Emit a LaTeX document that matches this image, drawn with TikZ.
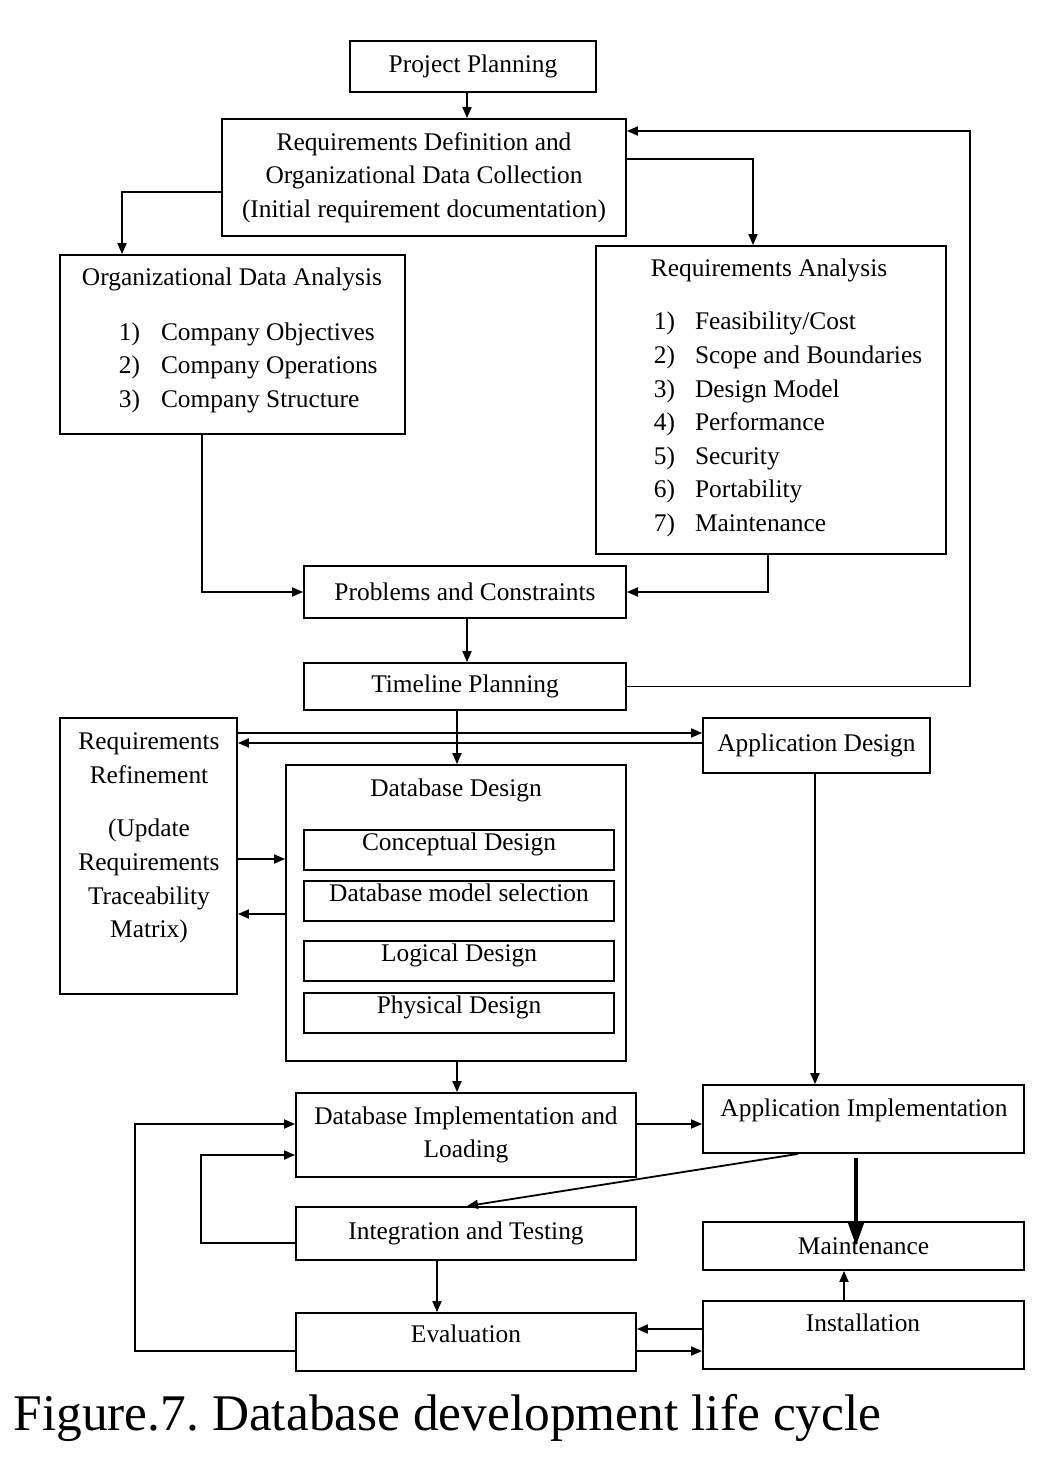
\documentclass[tikz,border=0pt]{standalone}
\usepackage{fontspec}
\setmainfont{Liberation Serif}
\usetikzlibrary{arrows.meta}

\begin{document}
\begin{tikzpicture}[x=0.5pt, y=-0.5pt, line width=0.9pt,
    font=\fontsize{12.7}{16.8}\selectfont,
    >={Triangle[length=5.5pt,width=4.5pt]},
    box/.style={draw, inner sep=0pt, align=center},
    raised/.style={text height=9pt, text depth=8.5pt}]
    \useasboundingbox (0,0) rectangle (1052,1460);

    \node[box, minimum width=123pt, minimum height=25.5pt] (pp) at (473,66.5) {Project Planning};
    \node[box, minimum width=202pt, minimum height=58.5pt] (rd) at (424,177.5) {Requirements Definition and\\Organizational Data Collection\\(Initial requirement documentation)};

    \node[box, minimum width=172.5pt, minimum height=89.5pt] (oda) at (232.5,344.5) {};
    \node (odatitle) at (232,279) {Organizational Data Analysis};
    \node[anchor=west, inner sep=0pt] (odalist) at (118,367) {\begin{tabular}{@{}l@{\hspace{10.5pt}}l@{}}
        1) & Company Objectives\\ 2) & Company Operations\\ 3) & Company Structure\end{tabular}};

    \node[box, minimum width=175pt, minimum height=154pt] (ra) at (771,400) {};
    \node (ratitle) at (769,270) {Requirements Analysis};
    \node[anchor=west, inner sep=0pt] (ralist) at (653,424) {\begin{tabular}{@{}l@{\hspace{10pt}}l@{}}
        1) & Feasibility/Cost\\ 2) & Scope and Boundaries\\ 3) & Design Model\\ 4) & Performance\\
        5) & Security\\ 6) & Portability\\ 7) & Maintenance\end{tabular}};

    \node[box, minimum width=161pt, minimum height=26pt] (pc) at (465,592) {Problems and Constraints};
    \node[box, minimum width=161pt, minimum height=23.5pt] (tp) at (465,686.5) {Timeline Planning};

    \node[box, minimum width=88.5pt, minimum height=138pt] (rr) at (148.5,856) {};
    \node[align=center] (rrtxt) at (149,838) {Requirements\\Refinement\\[10pt](Update\\Requirements\\Traceability\\Matrix)};
    \node[box, minimum width=113.5pt, minimum height=27.5pt] (ad) at (816.5,745.5) {Application Design};

    \node[box, minimum width=170pt, minimum height=148pt] (dd) at (456,913) {};
    \node (ddtitle) at (456,790) {Database Design};
    \node[box, raised, minimum width=155pt, minimum height=20pt] (cd) at (459,850) {Conceptual Design};
    \node[box, raised, minimum width=155pt, minimum height=20pt] (ms) at (459,901) {Database model selection};
    \node[box, raised, minimum width=155pt, minimum height=20pt] (ld) at (459,961) {Logical Design};
    \node[box, raised, minimum width=155pt, minimum height=20pt] (phd) at (459,1013) {Physical Design};

    \node[box, minimum width=170pt, minimum height=42pt] (dil) at (466,1135) {Database Implementation and\\Loading};
    \node[box, minimum width=160.5pt, minimum height=34pt] (ai) at (863.5,1119) {};
    \node (aitxt) at (864,1110) {Application Implementation};
    \node[box, minimum width=170pt, minimum height=26.5pt] (it) at (466,1233.5) {Integration and Testing};
    \node[box, minimum width=160.5pt, minimum height=24pt] (mt) at (863.5,1246) {Maintenance};
    \node[box, minimum width=160.5pt, minimum height=34pt] (ins) at (863.5,1335) {};
    \node (instxt) at (863,1323) {Installation};
    \node[box, raised, minimum width=170pt, minimum height=29pt] (ev) at (466,1342) {Evaluation};

    \draw[->] (467,0 |- pp.south) -- (467,0 |- rd.north);
    \draw[->] (rd.west |- 0,192) -| (122,0 |- oda.north);
    \draw[->] (rd.east |- 0,159) -| (753,0 |- ra.north);
    \draw[->] (tp.east) -- (970,0 |- tp.east) |- (rd.east |- 0,131);
    \draw[->] (202,0 |- oda.south) |- (pc.west);
    \draw[->] (768,0 |- ra.south) |- (pc.east);
    \draw[->] (467,0 |- pc.south) -- (467,0 |- tp.north);
    \draw[->] (457,0 |- tp.south) -- (457,0 |- dd.north);

    \draw[->] (rr.east |- 0,733) -- (ad.west |- 0,733);
    \draw[->] (ad.west |- 0,743) -- (rr.east |- 0,743);
    \draw[->] (rr.east |- 0,859) -- (dd.west |- 0,859);
    \draw[->] (dd.west |- 0,914) -- (rr.east |- 0,914);
    \draw[->] (815,0 |- ad.south) -- (815,0 |- ai.north);
    \draw[->] (457,0 |- dd.south) -- (457,0 |- dil.north);

    \draw[->] (dil.east |- 0,1124) -- (ai.west |- 0,1124);
    \draw[->] (798,0 |- ai.south) -- (467,0 |- it.north);
    \draw[line width=2pt, -{Triangle[length=11.5pt,width=7.5pt]}, shorten <=2pt] (856,0 |- ai.south) -- (856,0 |- mt.center);
    \draw[->] (it.west |- 0,1243) -- ++(-94,0) |- (dil.west |- 0,1155);
    \draw[->] (437,0 |- it.south) -- (437,0 |- ev.north);
    \draw[->] (844,0 |- ins.north) -- (844,0 |- mt.south);
    \draw[->] (ins.west |- 0,1329) -- (ev.east |- 0,1329);
    \draw[->] (ev.east |- 0,1351) -- (ins.west |- 0,1351);
    \draw[->] (ev.west |- 0,1351) -- ++(-160,0) |- (dil.west |- 0,1124);

    \node[anchor=base west, font=\fontsize{25.7}{30}\selectfont] (cap) at (6,1430) {\frenchspacing Figure.7. Database development life cycle};
\end{tikzpicture}
\end{document}
